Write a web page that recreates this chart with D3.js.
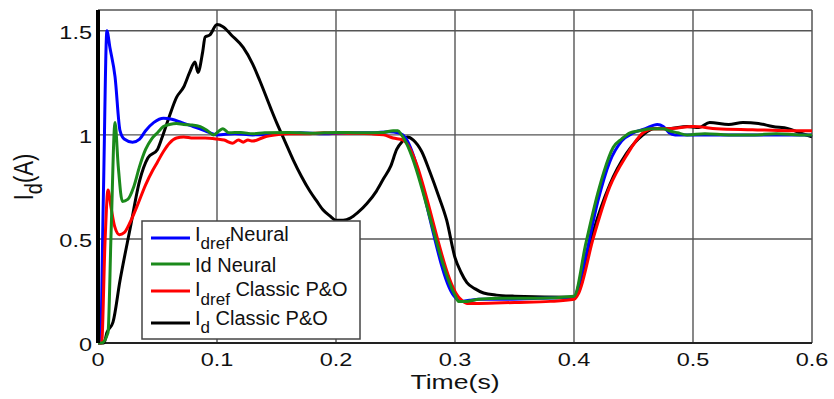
<!DOCTYPE html>
<html>
<head>
<meta charset="utf-8">
<script src="https://cdn.jsdelivr.net/npm/d3@7"></script>
<style>
  body { margin: 0; background: #fff; }
  svg { display: block; }
  text { font-family: "Liberation Sans", Arial, sans-serif; fill: #111; }
</style>
</head>
<body>
<svg id="chart" width="834" height="399"></svg>
<script>
// tick labels
var xTicks = [0, 0.1, 0.2, 0.3, 0.4, 0.5, 0.6];
var yTicks = [0, 0.5, 1, 1.5];

// Idref Neural (blue)
var blueT = [0, 0.002, 0.0045, 0.0075, 0.010, 0.0143, 0.0185, 0.022, 0.029, 0.035, 0.040, 0.047, 0.055, 0.062, 0.070, 0.080, 0.090, 0.100, 0.115, 0.13, 0.15, 0.17, 0.19, 0.21, 0.23, 0.245, 0.252, 0.256, 0.300, 0.305, 0.312, 0.32, 0.34, 0.37, 0.40, 0.405, 0.41, 0.42, 0.43, 0.44, 0.45, 0.46, 0.47, 0.475, 0.48, 0.485, 0.49, 0.52, 0.55, 0.58, 0.60];
var blueV = [0, 0, 0.7, 1.5, 1.42, 1.28, 1.02, 0.98, 0.965, 0.98, 1.02, 1.06, 1.08, 1.075, 1.06, 1.04, 1.02, 1.0, 1.005, 1.0, 1.005, 1.01, 1.005, 1.01, 1.01, 1.015, 1.01, 1.0, 0.22, 0.20, 0.205, 0.21, 0.21, 0.215, 0.22, 0.3, 0.42, 0.68, 0.87, 0.97, 1.01, 1.03, 1.05, 1.04, 1.01, 1.0, 1.0, 1.0, 1.0, 1.0, 1.0];

// Id Neural (green)
var greenT = [0, 0.003, 0.0084, 0.011, 0.0143, 0.017, 0.0205, 0.025, 0.030, 0.035, 0.040, 0.045, 0.050, 0.055, 0.060, 0.066, 0.072, 0.078, 0.086, 0.092, 0.097, 0.101, 0.105, 0.11, 0.12, 0.13, 0.14, 0.16, 0.18, 0.20, 0.22, 0.24, 0.248, 0.252, 0.255, 0.300, 0.303, 0.31, 0.32, 0.34, 0.37, 0.40, 0.41, 0.42, 0.425, 0.433, 0.44, 0.447, 0.455, 0.465, 0.475, 0.48, 0.487, 0.495, 0.51, 0.53, 0.55, 0.57, 0.59, 0.60];
var greenV = [0, 0, 0.05, 0.53, 1.06, 0.85, 0.68, 0.69, 0.75, 0.85, 0.93, 0.98, 1.01, 1.04, 1.05, 1.055, 1.05, 1.048, 1.04, 1.02, 1.0, 1.015, 1.03, 1.01, 1.012, 1.005, 1.01, 1.012, 1.008, 1.012, 1.01, 1.012, 1.02, 1.02, 1.0, 0.23, 0.20, 0.20, 0.21, 0.215, 0.215, 0.225, 0.48, 0.72, 0.82, 0.94, 0.98, 1.01, 1.02, 1.03, 1.03, 1.02, 1.01, 1.0, 1.005, 1.0, 1.0, 1.005, 1.0, 1.0];

// Idref Classic P&O (red)
var redT = [0, 0.003, 0.006, 0.0084, 0.011, 0.014, 0.018, 0.022, 0.027, 0.033, 0.040, 0.046, 0.050, 0.055, 0.060, 0.066, 0.072, 0.080, 0.090, 0.100, 0.106, 0.113, 0.118, 0.122, 0.126, 0.130, 0.140, 0.150, 0.160, 0.175, 0.19, 0.21, 0.23, 0.24, 0.248, 0.256, 0.304, 0.31, 0.32, 0.35, 0.38, 0.40, 0.404, 0.416, 0.43, 0.444, 0.458, 0.467, 0.48, 0.50, 0.52, 0.55, 0.58, 0.60];
var redV = [0, 0, 0.5, 0.735, 0.65, 0.56, 0.52, 0.53, 0.58, 0.66, 0.76, 0.83, 0.87, 0.92, 0.96, 0.985, 0.99, 0.985, 0.985, 0.98, 0.975, 0.96, 0.975, 0.965, 0.975, 0.97, 0.99, 1.0, 1.005, 1.005, 1.01, 1.008, 1.005, 1.0, 0.985, 0.976, 0.215, 0.19, 0.19, 0.195, 0.2, 0.21, 0.24, 0.5, 0.75, 0.9, 1.01, 1.03, 1.03, 1.04, 1.03, 1.025, 1.02, 1.02];

// Id Classic P&O (black)
var blackT = [0, 0.005, 0.0075, 0.0126, 0.0185, 0.027, 0.035, 0.042, 0.050, 0.054, 0.060, 0.066, 0.072, 0.077, 0.0815, 0.084, 0.088, 0.090, 0.094, 0.100, 0.105, 0.112, 0.122, 0.130, 0.136, 0.145, 0.150, 0.157, 0.164, 0.171, 0.178, 0.184, 0.189, 0.195, 0.200, 0.206, 0.212, 0.218, 0.226, 0.234, 0.240, 0.246, 0.251, 0.256, 0.260, 0.265, 0.272, 0.279, 0.286, 0.293, 0.300, 0.305, 0.310, 0.317, 0.324, 0.335, 0.350, 0.400, 0.404, 0.416, 0.43, 0.444, 0.458, 0.467, 0.48, 0.495, 0.505, 0.514, 0.53, 0.542, 0.555, 0.567, 0.58, 0.59, 0.60];
var blackV = [0, 0, 0.05, 0.1, 0.3, 0.55, 0.78, 0.89, 0.93, 0.99, 1.09, 1.18, 1.23, 1.30, 1.35, 1.30, 1.40, 1.47, 1.48, 1.53, 1.52, 1.48, 1.42, 1.34, 1.26, 1.13, 1.06, 0.97, 0.88, 0.80, 0.73, 0.68, 0.64, 0.61, 0.59, 0.59, 0.60, 0.625, 0.67, 0.73, 0.79, 0.85, 0.93, 0.97, 0.99, 0.975, 0.92, 0.82, 0.71, 0.59, 0.41, 0.34, 0.29, 0.26, 0.24, 0.23, 0.225, 0.22, 0.25, 0.53, 0.76, 0.91, 1.0, 1.03, 1.03, 1.04, 1.035, 1.06, 1.05, 1.06, 1.055, 1.04, 1.03, 1.01, 0.99];

var seriesColors = ["#0000ff", "#1b8a1b", "#ff0000", "#000000"];

var W = 834, H = 399;
var m = { left: 98, top: 10, right: 22, bottom: 56 };
var iw = W - m.left - m.right, ih = H - m.top - m.bottom;
var SX = 1.27; // the picture's text looks stretched sideways

var svg = d3.select("#chart");
var g = svg.append("g").attr("transform", "translate(" + m.left + "," + m.top + ")");

var x = d3.scaleLinear().domain([0, 0.6]).range([0, iw]);
var y = d3.scaleLinear().domain([0, 1.6]).range([ih, 0]);

// grid
g.append("g").selectAll("line").data(xTicks.slice(1, -1)).join("line")
  .attr("x1", d => x(d)).attr("x2", d => x(d)).attr("y1", 0).attr("y2", ih)
  .attr("stroke", "#555").attr("stroke-width", 1.4);
g.append("g").selectAll("line").data(yTicks.slice(1)).join("line")
  .attr("x1", 0).attr("x2", iw).attr("y1", d => y(d)).attr("y2", d => y(d))
  .attr("stroke", "#555").attr("stroke-width", 1.4);

// frame top/right
g.append("line").attr("x1", 0).attr("x2", iw).attr("y1", 0).attr("y2", 0).attr("stroke", "#555").attr("stroke-width", 1.5);
g.append("line").attr("x1", iw).attr("x2", iw).attr("y1", 0).attr("y2", ih).attr("stroke", "#555").attr("stroke-width", 1.5);

// bottom axis line
g.append("line").attr("x1", 0).attr("x2", iw).attr("y1", ih).attr("y2", ih)
  .attr("stroke", "#222").attr("stroke-width", 2);

// tick labels (stretched)
function fmt(d) { return d === 0 ? "0" : String(d); }
g.append("g").selectAll("text").data(xTicks).join("text")
  .attr("transform", d => "translate(" + x(d) + "," + (ih + 23) + ") scale(" + SX + ",1)")
  .attr("text-anchor", "middle").attr("font-size", 18.5).text(fmt);
g.append("g").selectAll("text").data(yTicks).join("text")
  .attr("transform", d => "translate(-6," + (y(d) + 8) + ") scale(" + SX + ",1)")
  .attr("text-anchor", "end").attr("font-size", 18.5).text(fmt);

var line = d3.line().x(d => x(d[0])).y(d => y(d[1])).curve(d3.curveMonotoneX);

var all = [[blueT, blueV], [greenT, greenV], [redT, redV], [blackT, blackV]];
var drawOrder = [3, 0, 2, 1];
drawOrder.forEach(function (i) {
  var pts = all[i][0].map((t, k) => [t, all[i][1][k]]);
  g.append("path").datum(pts)
    .attr("fill", "none").attr("stroke", seriesColors[i])
    .attr("stroke-width", 3).attr("stroke-linejoin", "round")
    .attr("d", line);
});

// thick left axis
g.append("line").attr("x1", 0).attr("x2", 0).attr("y1", 0).attr("y2", ih)
  .attr("stroke", "#000").attr("stroke-width", 4);

// axis titles
svg.append("text").attr("transform", "translate(" + (m.left + x(0.3)) + ",389) scale(1.33,1)")
  .attr("text-anchor", "middle").attr("font-size", 20).text("Time(s)");

var yt = svg.append("text").attr("transform", "translate(33,177) scale(1.22,1) rotate(-90)")
  .attr("text-anchor", "middle").attr("font-size", 22);
yt.append("tspan").text("I");
yt.append("tspan").attr("font-size", 20).attr("dy", 7).text("d");
yt.append("tspan").attr("dy", -7).text("(A)");

// legend
var lg = svg.append("g").attr("transform", "translate(142,221)");
lg.append("rect").attr("width", 218).attr("height", 118)
  .attr("fill", "#fff").attr("stroke", "#444").attr("stroke-width", 1.5);
var rowsY = [17, 43, 70, 102];
var baseY = [20, 51, 75, 104];
var subDy = [8, 0, 9, 8];
var labels = [
  [["I", 0], ["dref", 1], ["Neural", 0]],
  [["Id Neural", 0]],
  [["I", 0], ["dref", 1], [" Classic P&O", 0]],
  [["I", 0], ["d", 1], [" Classic P&O", 0]]
];
labels.forEach(function (parts, i) {
  lg.append("line").attr("x1", 9).attr("x2", 48).attr("y1", rowsY[i]).attr("y2", rowsY[i])
    .attr("stroke", seriesColors[i]).attr("stroke-width", 3);
  var t = lg.append("text").attr("x", 53).attr("y", baseY[i]).attr("font-size", 20)
    .attr("xml:space", "preserve");
  var sub = false;
  parts.forEach(function (p) {
    var ts = t.append("tspan").text(p[0]);
    if (p[1] && !sub) { ts.attr("dy", subDy[i]).attr("font-size", 17); sub = true; }
    else if (!p[1] && sub) { ts.attr("dy", -subDy[i]); sub = false; }
  });
});
</script>
</body>
</html>
